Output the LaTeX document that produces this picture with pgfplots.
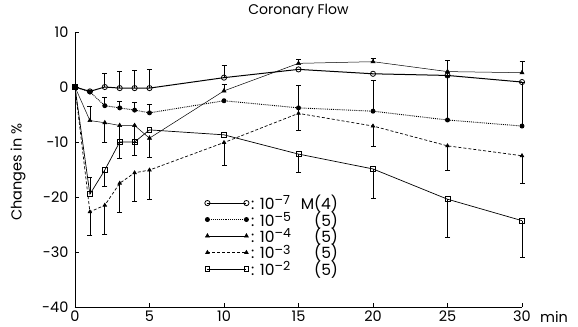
\documentclass[border=0pt]{standalone}
\usepackage{fontspec}
\setmainfont{Poppins}
\usepackage{pgfplots}
\pgfplotsset{compat=1.18}
\usepackage{pgfplotstable}

% main series
\pgfplotstableread{
x y
0 0
1 -0.8
2 0
3 -0.2
4 -0.2
5 -0.2
10 1.7
15 3.2
20 2.4
25 2.1
30 0.9
}\sSeven
\pgfplotstableread{
x y
0 0
1 -0.9
2 -3.4
3 -3.8
4 -4.2
5 -4.7
10 -2.5
15 -3.8
20 -4.4
25 -6.0
30 -7.1
}\sFive
\pgfplotstableread{
x y
0 0
1 -6.1
2 -6.5
3 -7.0
4 -7.0
5 -9.3
10 -0.7
15 4.3
20 4.6
25 2.8
30 2.6
}\sFour
\pgfplotstableread{
x y
0 0
1 -22.7
2 -21.5
3 -17.5
4 -15.6
5 -15.1
10 -10.1
15 -4.8
20 -7.1
25 -10.7
30 -12.5
}\sThree
\pgfplotstableread{
x y
0 0
1 -19.5
2 -15.1
3 -10.0
4 -10.0
5 -7.8
10 -8.7
15 -12.2
20 -14.9
25 -20.4
30 -24.3
}\sTwo

% error bars
\pgfplotstableread{
x y e
2 0 2.4
3 -0.2 3.0
4 -0.2 3.3
5 -0.2 3.4
10 1.7 2.2
25 2.1 2.8
}\eSevenUp
\pgfplotstableread{
x y e
2 -3.4 1.5
3 -3.8 1.2
4 -4.2 1.5
5 -4.7 1.5
15 -3.8 4.1
20 -4.4 5.6
25 -6.0 8.0
30 -7.1 8.0
}\eFiveUp
\pgfplotstableread{
x y e
15 -3.8 4.1
}\eFiveDown
\pgfplotstableread{
x y e
1 -6.1 2.6
10 -0.7 1.1
15 4.3 0.8
20 4.6 0.7
30 2.6 2.1
}\eFourUp
\pgfplotstableread{
x y e
2 -6.5 3.5
3 -7.0 3.0
4 -7.0 3.0
5 -9.3 3.5
}\eFourDown
\pgfplotstableread{
x y e
1 -22.7 4.3
2 -21.5 5.2
3 -17.5 5.2
4 -15.6 5.1
5 -15.1 5.3
10 -10.1 4.1
20 -7.1 3.7
25 -10.7 4.4
30 -12.5 5.0
}\eThreeDown
\pgfplotstableread{
x y e
1 -19.5 3.0
}\eTwoUp
\pgfplotstableread{
x y e
2 -15.1 3.0
3 -10.0 3.0
4 -10.0 2.5
15 -12.2 3.4
20 -14.9 5.3
25 -20.4 7.0
30 -24.3 6.7
}\eTwoDown

\newcommand{\lsup}[1]{\raisebox{0.55ex}{\fontsize{12.5}{14}\selectfont –#1}}

\begin{document}
\begin{tikzpicture}
\begin{axis}[
  scale only axis,
  width=447pt, height=275pt,
  xmin=0, xmax=30, ymin=-40, ymax=10,
  clip=false,
  axis x line=bottom, axis y line=left,
  axis line style={-, line width=0.8pt},
  xtick={0,5,...,30}, ytick={-40,-30,...,10},
  tick align=inside, major tick length=4pt,
  tick style={line width=0.7pt, black},
  /pgf/number format/assume math mode=true,
  ticklabel style={font=\fontsize{14.5}{16}\selectfont},
  yticklabel style={xshift=-3pt},
  xticklabel style={yshift=0pt},
  title={Coronary Flow},
  title style={at={(rel axis cs:0.5,1)}, anchor=center, yshift=15pt, font=\fontsize{14}{16}\selectfont},
  ylabel={Changes in \%},
  ylabel style={at={(rel axis cs:0,0.49)}, anchor=center, yshift=57pt, font=\fontsize{14.5}{16}\selectfont},
  legend cell align=left,
  legend style={draw=none, fill=none, inner sep=0pt, row sep=-3.5pt,
     at={(0.29,0.415)}, anchor=north west, font=\fontsize{15.5}{17}\selectfont},
  legend image code/.code={\draw[mark repeat=1,#1] plot coordinates {(0pt,0pt) (39pt,0pt)};},
  every axis plot/.append style={black},
]
\addplot[line width=1.0pt, mark=o, mark size=2.6pt, mark options={fill=white, line width=0.8pt}] table {\sSeven};
\addlegendentry{\makebox[56pt][l]{: 10\lsup{7}}\makebox[31pt][r]{M(4)}}
\addplot[line width=0.9pt, densely dotted, mark=*, mark size=2.0pt, mark options={solid}] table {\sFive};
\addlegendentry{\makebox[56pt][l]{: 10\lsup{5}}\makebox[31pt][r]{(5)}}
\addplot[line width=0.5pt, mark=triangle*, mark size=2.4pt, mark options={solid}] table {\sFour};
\addlegendentry{\makebox[56pt][l]{: 10\lsup{4}}\makebox[31pt][r]{(5)}}
\addplot[line width=0.7pt, dash pattern=on 3pt off 2pt, mark=triangle*, mark size=2.0pt, mark options={solid}] table {\sThree};
\addlegendentry{\makebox[56pt][l]{: 10\lsup{3}}\makebox[31pt][r]{(5)}}
\addplot[line width=0.7pt, mark=square, mark size=2.4pt, mark options={fill=white, line width=0.8pt}] table {\sTwo};
\addlegendentry{\makebox[56pt][l]{: 10\lsup{2}}\makebox[31pt][r]{(5)}}

\pgfplotsset{errup/.style={draw=none, mark=none, forget plot,
   error bars/.cd, y dir=plus, y explicit,
   error bar style={draw=black, solid, line width=0.6pt},
   error mark options={draw=black, solid, line width=0.6pt, mark size=2.5pt, rotate=90}},
 errdown/.style={draw=none, mark=none, forget plot,
   error bars/.cd, y dir=minus, y explicit,
   error bar style={draw=black, solid, line width=0.6pt},
   error mark options={draw=black, solid, line width=0.6pt, mark size=2.5pt, rotate=90}}}
\addplot[errup] table[x=x, y=y, y error=e] {\eSevenUp};
\addplot[errup] table[x=x, y=y, y error=e] {\eFiveUp};
\addplot[errdown] table[x=x, y=y, y error=e] {\eFiveDown};
\addplot[errup] table[x=x, y=y, y error=e] {\eFourUp};
\addplot[errdown] table[x=x, y=y, y error=e] {\eFourDown};
\addplot[errdown] table[x=x, y=y, y error=e] {\eThreeDown};
\addplot[errup] table[x=x, y=y, y error=e] {\eTwoUp};
\addplot[errdown] table[x=x, y=y, y error=e] {\eTwoDown};

\node[anchor=base, inner sep=0pt, font=\fontsize{14.5}{16}\selectfont] at ([xshift=32pt, yshift=-16pt]rel axis cs:1,0) {min};
\path ([xshift=-75pt, yshift=-20pt]rel axis cs:0,0) rectangle ([xshift=56pt, yshift=32pt]rel axis cs:1,1);
\end{axis}
\end{tikzpicture}
\end{document}
